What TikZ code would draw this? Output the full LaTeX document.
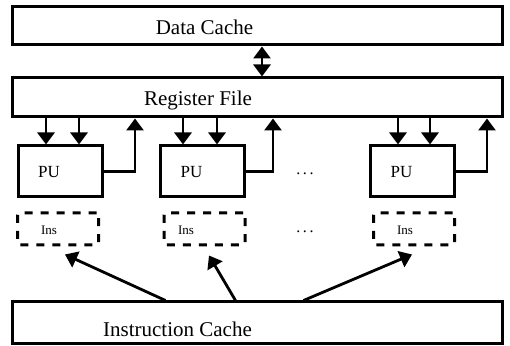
\documentclass[tikz,border=0pt]{standalone}
\usepackage{fontspec}
\setmainfont{Liberation Serif}
\usetikzlibrary{calc, arrows.meta}
\tikzset{box/.style={draw, line width=1.5pt, inner sep=0pt}}
\tikzset{wide/.style={box, minimum width=245pt}}
\tikzset{pu/.style={box, minimum width=42pt, minimum height=25.5pt}}
\tikzset{ins/.style={draw, line width=1.5pt, dash pattern=on 4pt off 4pt, rounded corners=1pt, minimum width=40.5pt, minimum height=16pt}}
\tikzset{arr/.style={line width=1.4pt, -{Triangle[width=8.5pt,length=6pt]}}}
\tikzset{big/.style={font=\fontsize{10.5}{12}\selectfont}}
\tikzset{dotted row/.style={font=\fontsize{8}{10}\selectfont}}

\begin{document}
\begin{tikzpicture}[x=0.5pt, y=-0.5pt]
        \useasboundingbox (0,0) rectangle (510,346);
        % Caches and register file
        \node[wide, minimum height=19pt] (dc) at (257,26) {};
        \node[wide, minimum height=19.5pt] (rf) at (257,97.5) {};
        \node[wide, minimum height=21pt] (ic) at (257,323) {};
        \node[big] (dctext) at (204.5,27) {Data Cache};
        \node[big] (rftext) at (198,100) {Register File};
        \node[big] (ictext) at (177.5,329) {Instruction Cache};
        \draw[arr, {Triangle[width=8.5pt,length=6pt]}-{Triangle[width=8.5pt,length=6pt]}]
          ($(dc.south)+(5,0)$) -- ($(rf.north)+(5,0)$);
        % Processing units
        \foreach \n/\x/\a/\b/\up in {1/60/46/79/135, 2/202.5/183/217/273, 3/412.5/398/430/487} {
          \node[pu] (pu\n) at (\x,171.5) {};
          \node[font=\fontsize{8.5}{10}\selectfont] (putext\n) at (\x-11,172) {PU};
          \draw[arr] (rf.south -| \a,0) -- (pu\n.north -| \a,0);
          \draw[arr] (rf.south -| \b,0) -- (pu\n.north -| \b,0);
          \draw[arr] (pu\n.east) -| (rf.south -| \up,0);
        }
        % Instruction slots
        \foreach \n/\x/\t in {1/58/49, 2/204.5/186, 3/414/405} {
          \node[ins] (ins\n) at (\x,229) {};
          \node[font=\fontsize{6.5}{8}\selectfont] (instext\n) at (\t,230) {Ins};
        }
        \node[dotted row] (dots1) at (305,174) {.\,.\,.};
        \node[dotted row] (dots2) at (305,232) {.\,.\,.};
        \draw[arr] ($(ic.north west)+(155,0)$) -- ($(ins1.south)+(7,8)$);
        \draw[arr] ($(ic.north west)+(225,0)$) -- ($(ins2.south)+(4.5,9)$);
        \draw[arr] ($(ic.north west)+(293,0)$) -- ($(ins3.south)+(-2,8)$);
\end{tikzpicture}
\end{document}
